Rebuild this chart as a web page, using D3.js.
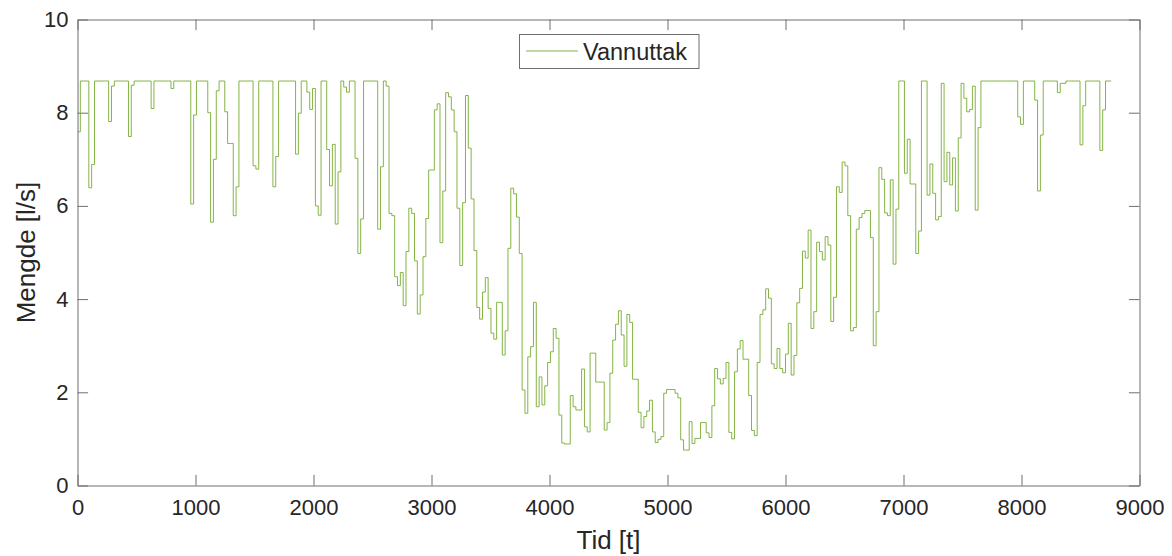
<!DOCTYPE html>
<html>
<head>
<meta charset="utf-8">
<script src="https://cdn.jsdelivr.net/npm/d3@7"></script>
<style>
  body { margin: 0; background: #ffffff; }
  svg text { font-family: "Liberation Sans", Arial, Helvetica, sans-serif; fill: #262626; }
</style>
</head>
<body>
<svg id="chart" width="1172" height="556"></svg>
<script>
// Water withdrawal through the year, one value per day (l/s), each held for 24 hours
const stepHours = 24;
const dailyFlow = [
  7.59, 8.68, 8.68, 8.68, 6.39, 6.89, 8.68, 8.68, 8.68, 8.68,
  8.68, 7.81, 8.57, 8.68, 8.68, 8.68, 8.68, 8.68, 7.49, 8.59,
  8.68, 8.68, 8.68, 8.68, 8.68, 8.68, 8.09, 8.68, 8.68, 8.68,
  8.68, 8.68, 8.68, 8.52, 8.68, 8.68, 8.68, 8.68, 8.68, 8.68,
  6.04, 7.95, 8.68, 8.68, 8.68, 8.68, 8.00, 5.65, 7.00, 8.47,
  8.68, 8.68, 8.02, 7.34, 7.34, 5.79, 6.41, 8.68, 8.68, 8.68,
  8.68, 8.68, 6.86, 6.79, 8.68, 8.68, 8.68, 8.68, 8.68, 6.41,
  7.06, 8.68, 8.68, 8.68, 8.68, 8.68, 8.68, 7.11, 7.99, 8.68,
  8.68, 8.44, 8.07, 8.52, 6.00, 5.80, 8.68, 8.68, 7.21, 6.43,
  7.32, 5.61, 6.73, 8.68, 8.55, 8.44, 8.68, 8.68, 7.02, 4.98,
  5.72, 8.68, 8.68, 8.68, 8.68, 8.68, 5.50, 6.84, 8.68, 8.57,
  5.84, 5.79, 4.48, 4.29, 4.57, 3.86, 5.02, 5.95, 5.84, 4.82,
  3.68, 4.09, 4.91, 5.73, 6.77, 6.77, 8.06, 8.19, 5.21, 6.32,
  8.43, 8.34, 8.06, 7.59, 5.95, 4.72, 6.07, 8.37, 7.24, 6.15,
  5.04, 3.82, 3.57, 4.15, 4.46, 3.80, 3.27, 3.14, 3.93, 3.93,
  2.80, 3.32, 5.09, 6.38, 6.26, 5.76, 4.98, 2.05, 1.55, 2.76,
  2.98, 3.93, 1.69, 2.33, 1.73, 2.14, 2.64, 2.87, 3.37, 3.16,
  1.51, 0.91, 0.89, 0.89, 1.93, 1.69, 1.62, 1.62, 2.50, 1.26,
  1.15, 2.84, 2.84, 2.22, 2.22, 2.22, 1.19, 1.35, 2.41, 3.12,
  3.46, 3.75, 3.23, 2.56, 3.67, 3.50, 2.28, 2.28, 1.57, 1.24,
  1.48, 1.60, 1.83, 1.15, 0.92, 0.99, 1.05, 1.98, 2.06, 2.06,
  2.06, 1.98, 1.88, 0.98, 0.76, 0.76, 1.37, 0.90, 1.01, 1.01,
  1.35, 1.35, 1.13, 1.03, 1.71, 2.51, 2.29, 2.18, 2.30, 2.64,
  1.14, 1.00, 2.44, 2.93, 3.11, 2.71, 2.71, 1.93, 1.18, 1.07,
  2.64, 3.67, 3.77, 4.22, 4.02, 2.61, 2.51, 2.94, 2.51, 2.42,
  2.82, 3.48, 2.37, 2.79, 3.92, 4.23, 5.03, 4.88, 5.48, 3.37,
  3.73, 5.22, 5.02, 4.84, 5.34, 5.16, 3.52, 4.04, 6.41, 6.29,
  6.94, 6.86, 5.79, 3.32, 3.39, 5.50, 5.75, 5.84, 5.90, 5.90,
  5.32, 3.00, 3.73, 6.82, 6.57, 5.85, 5.79, 6.56, 4.75, 5.93,
  8.68, 8.68, 6.70, 7.43, 6.47, 6.47, 4.98, 5.46, 8.68, 8.68,
  6.23, 6.90, 6.27, 5.70, 5.77, 8.63, 6.52, 7.15, 6.45, 7.03,
  5.89, 7.46, 8.63, 8.31, 8.02, 8.07, 8.57, 5.91, 7.68, 8.68,
  8.68, 8.68, 8.68, 8.68, 8.68, 8.68, 8.68, 8.68, 8.68, 8.68,
  8.68, 8.68, 7.91, 7.75, 8.68, 8.68, 8.68, 8.68, 8.27, 6.32,
  7.52, 8.68, 8.68, 8.68, 8.68, 8.68, 8.43, 8.63, 8.63, 8.68,
  8.68, 8.68, 8.68, 8.68, 7.31, 8.15, 8.68, 8.68, 8.68, 8.68,
  8.68, 7.19, 8.06, 8.68, 8.68
];

const xTicks = [0, 1000, 2000, 3000, 4000, 5000, 6000, 7000, 8000, 9000];
const yTicks = [0, 2, 4, 6, 8, 10];
const xDomain = [0, 9000];
const yDomain = [0, 10];
const seriesName = "Vannuttak";
const xTitle = "Tid [t]";
const yTitle = "Mengde [l/s]";

const lineColor = "#77ac30";
const axisColor = "#6e6e6e";

const svg = d3.select("#chart");
const plotLeft = 77.5, plotRight = 1139.5, plotTop = 19.5, plotBottom = 485.5;
const tickLen = 10.6;

const x = d3.scaleLinear().domain(xDomain).range([plotLeft, plotRight]);
const y = d3.scaleLinear().domain(yDomain).range([plotBottom, plotTop]);
const plainNumber = d3.format("d");

// Step series: each daily value starts at its hour and holds until the next one
const points = dailyFlow.map((v, i) => [i * stepHours, v]);
points.push([dailyFlow.length * stepHours, dailyFlow[dailyFlow.length - 1]]);

// Axes with inward ticks on all four sides
const styleAxis = g => {
  g.select(".domain").attr("stroke", axisColor).attr("stroke-width", 1);
  g.selectAll(".tick line").attr("stroke", axisColor).attr("stroke-width", 1);
  g.selectAll(".tick text")
    .attr("fill", "#262626")
    .style("font-size", "22px")
    .style("font-family", "'Liberation Sans', Arial, sans-serif");
};

svg.append("g")
  .attr("transform", `translate(0,${plotBottom})`)
  .call(d3.axisBottom(x).tickValues(xTicks).tickFormat(plainNumber)
    .tickSizeInner(-tickLen).tickSizeOuter(0).tickPadding(14))
  .call(styleAxis);

svg.append("g")
  .attr("transform", `translate(0,${plotTop})`)
  .call(d3.axisTop(x).tickValues(xTicks).tickSizeInner(-tickLen).tickSizeOuter(0).tickFormat(""))
  .call(styleAxis);

svg.append("g")
  .attr("transform", `translate(${plotLeft},0)`)
  .call(d3.axisLeft(y).tickValues(yTicks).tickFormat(plainNumber)
    .tickSizeInner(-tickLen).tickSizeOuter(0).tickPadding(9))
  .call(styleAxis);

svg.append("g")
  .attr("transform", `translate(${plotRight},0)`)
  .call(d3.axisRight(y).tickValues(yTicks).tickSizeInner(-tickLen).tickSizeOuter(0).tickFormat(""))
  .call(styleAxis);

// Series line
svg.append("path")
  .datum(points)
  .attr("fill", "none")
  .attr("stroke", lineColor)
  .attr("stroke-width", 0.9)
  .attr("d", d3.line().x(d => x(d[0])).y(d => y(d[1])).curve(d3.curveStepAfter));

// Axis titles
svg.append("text")
  .attr("x", (plotLeft + plotRight) / 2)
  .attr("y", 549)
  .attr("text-anchor", "middle")
  .style("font-size", "26px")
  .text(xTitle);

svg.append("text")
  .attr("transform", `translate(35,${(plotTop + plotBottom) / 2}) rotate(-90)`)
  .attr("text-anchor", "middle")
  .style("font-size", "26px")
  .text(yTitle);

// Legend
const legend = svg.append("g");
legend.append("rect")
  .attr("x", 519.5).attr("y", 34.5)
  .attr("width", 179.5).attr("height", 34)
  .attr("fill", "#ffffff")
  .attr("stroke", axisColor).attr("stroke-width", 1);
legend.append("line")
  .attr("x1", 526).attr("x2", 578)
  .attr("y1", 51).attr("y2", 51)
  .attr("stroke", lineColor).attr("stroke-width", 0.9);
legend.append("text")
  .attr("x", 583).attr("y", 59.5)
  .style("font-size", "23.5px")
  .attr("fill", "#000000")
  .text(seriesName);
</script>
</body>
</html>
